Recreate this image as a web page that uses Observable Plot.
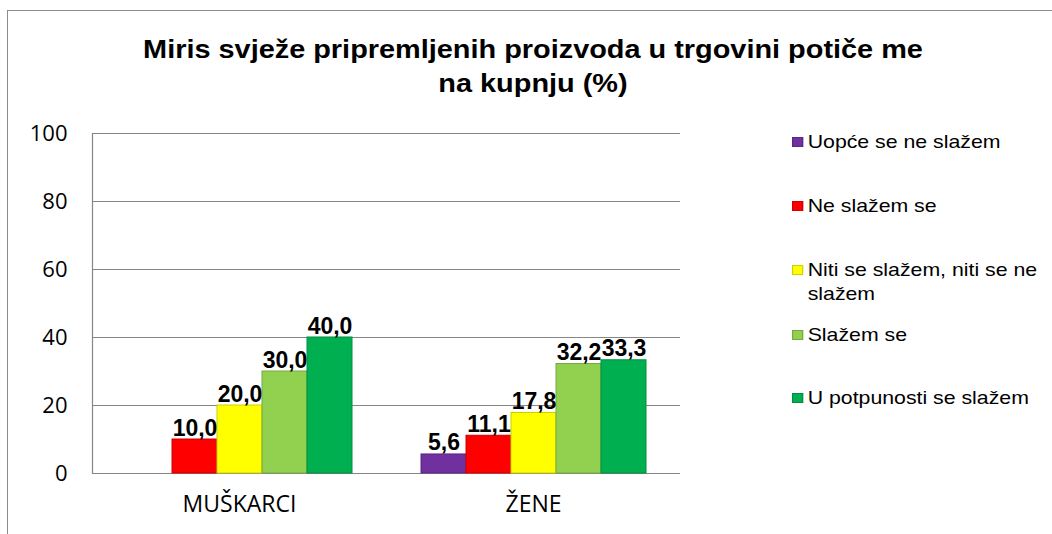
<!DOCTYPE html>
<html>
<head>
<meta charset="utf-8">
<script src="https://cdn.jsdelivr.net/npm/d3@7"></script>
<script src="https://cdn.jsdelivr.net/npm/@observablehq/plot@0.6"></script>
<style>
  body { margin:0; background:#fff; }
  #wrap { position:relative; width:1052px; height:534px; overflow:hidden; background:#fff; }
  #frame { position:absolute; left:7px; top:10px; width:1060px; height:540px; border-left:1px solid #8c8c8c; border-top:1px solid #8c8c8c; }
  #title { position:absolute; left:133px; width:800px; top:32px; text-align:center; font-family:"Liberation Sans", Arial, sans-serif; font-weight:bold; font-size:25px; line-height:34px; color:#000; transform:scaleX(1.155); transform-origin:400px 0; }
  #chart { position:absolute; left:0; top:0; }
  #legend { position:absolute; left:792px; top:0; font-family:"Liberation Sans", Arial, sans-serif; font-size:19px; color:#000; transform:scaleX(1.12); transform-origin:0 0; }
  .item { position:absolute; left:0; width:235px; display:flex; align-items:flex-start; line-height:24px; }
  .sw { width:10px; height:10px; margin-top:7px; margin-right:4px; flex:none; box-sizing:border-box; border:1px solid; }
</style>
</head>
<body>
<div id="wrap">
  <div id="frame"></div>
  <div id="title">Miris svježe pripremljenih proizvoda u trgovini potiče me<br>na kupnju (%)</div>
  <div id="chart"></div>
  <div id="legend"></div>
</div>
<script>
const groups = ["MUŠKARCI", "ŽENE"];
const series = ["Uopće se ne slažem", "Ne slažem se", "Niti se slažem, niti se ne slažem", "Slažem se", "U potpunosti se slažem"];
const muskarci = [null, 10.0, 20.0, 30.0, 40.0];
const zene = [5.6, 11.1, 17.8, 32.2, 33.3];
const colors = ["#7030A0", "#FF0000", "#FFFF00", "#92D050", "#00B050"];
const yTicks = [0, 20, 40, 60, 80, 100];

const values = {"MUŠKARCI": muskarci, "ŽENE": zene};
const data = [];
for (const g of groups) {
  series.forEach((s, i) => {
    const v = values[g][i];
    if (v != null) data.push({group: g, series: s, value: v});
  });
}
const darker = colors.map(c => d3.color(c).darker(0.6).formatHex());
const strokeOf = s => darker[series.indexOf(s)];

const chart = Plot.plot({
  width: 700,
  height: 534,
  marginLeft: 91,
  marginRight: 20,
  marginTop: 133,
  marginBottom: 61,
  style: {fontFamily: "'Open Sans', sans-serif", background: "transparent", overflow: "visible"},
  fx: {domain: groups, padding: 0, label: null},
  x: {domain: series, axis: null, paddingInner: 0, paddingOuter: 0.74},
  y: {domain: [0, 100]},
  color: {domain: series, range: colors},
  marks: [
    Plot.ruleY(yTicks, {stroke: "#868686", strokeWidth: 1.2}),
    Plot.frame({anchor: "left", facetAnchor: "left", stroke: "#868686", strokeWidth: 1.2}),
    Plot.axisY(yTicks, {tickSize: 0, tickPadding: 25, fontSize: 22, fill: "#000", label: null}),
    Plot.axisFx({anchor: "bottom", tickSize: 0, tickPadding: 22, fontSize: 23, fill: "#000", label: null}),
    Plot.barY(data, {fx: "group", x: "series", y: "value", fill: "series", stroke: d => strokeOf(d.series), strokeWidth: 1}),
    Plot.text(data, {fx: "group", x: "series", y: "value", text: d => d.value.toFixed(1).replace(".", ","), lineAnchor: "bottom", dy: -4, fontSize: 23, fontWeight: "bold", fontFamily: "'Liberation Sans', Arial, sans-serif", fill: "#000"})
  ]
});
document.getElementById("chart").appendChild(chart);

const legendTops = [130, 194, 258, 323, 386];
const legend = document.getElementById("legend");
series.forEach((s, i) => {
  const it = document.createElement("div");
  it.className = "item";
  it.style.top = legendTops[i] + "px";
  const sw = document.createElement("span");
  sw.className = "sw";
  sw.style.background = colors[i];
  sw.style.borderColor = darker[i];
  const tx = document.createElement("span");
  tx.textContent = s;
  it.appendChild(sw);
  it.appendChild(tx);
  legend.appendChild(it);
});
</script>
</body>
</html>
